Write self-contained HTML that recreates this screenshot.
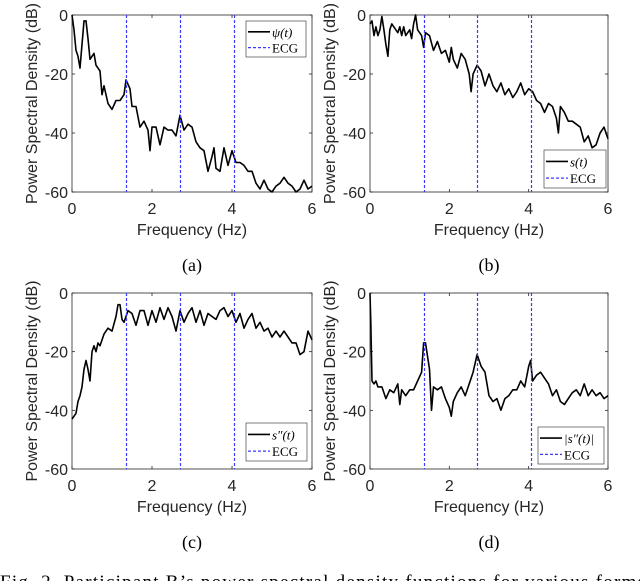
<!DOCTYPE html>
<html><head><meta charset="utf-8"><style>
body{margin:0;background:#fff;width:640px;height:581px;overflow:hidden}
svg{display:block}
</style></head><body>
<svg id="fig" width="640" height="581" viewBox="0 0 640 581" xmlns="http://www.w3.org/2000/svg" font-family="Liberation Sans, sans-serif">
<text x="0" y="588" font-family="Liberation Serif, serif" font-size="19" textLength="645">Fig. 2.  Participant B’s power spectral density functions for various forms</text>
</svg>
<script>
const freqA=[0,.05,.1,.15,.2,.25,.3,.35,.4,.45,.5,.55,.6,.7,.75,.8,.9,1.0,1.1,1.2,1.3,1.35,1.45,1.5,1.6,1.7,1.8,1.9,1.95,2.0,2.1,2.2,2.3,2.4,2.5,2.6,2.7,2.8,2.9,3.0,3.1,3.2,3.3,3.4,3.5,3.55,3.6,3.7,3.8,3.9,4.0,4.1,4.2,4.3,4.4,4.5,4.6,4.7,4.8,4.9,5.0,5.1,5.2,5.3,5.4,5.5,5.6,5.7,5.8,5.9,6.0];
const psdA=[0,-5,-12,-14,-18,-10,-2,-2,-8,-15,-14,-13,-17,-19,-27,-24,-30,-32,-29,-29,-27,-22,-25,-31,-31,-38,-36,-39,-46,-38,-38,-44,-38,-39,-39,-41,-34,-39,-37,-38,-43,-45,-46,-53,-48,-45,-52,-53,-45,-51,-46,-50,-50,-51,-53,-53,-57,-59,-56,-59,-60,-58,-57,-55,-57,-58,-60,-59,-56,-59,-58];
const freqB=[0,.05,.1,.15,.2,.25,.3,.35,.4,.45,.5,.55,.6,.7,.75,.8,.85,.9,1.0,1.05,1.1,1.15,1.2,1.3,1.35,1.4,1.5,1.6,1.7,1.8,1.9,2.0,2.05,2.1,2.2,2.3,2.4,2.5,2.55,2.6,2.7,2.8,2.9,3.0,3.1,3.2,3.3,3.4,3.5,3.6,3.7,3.8,3.9,4.0,4.1,4.2,4.3,4.4,4.5,4.6,4.7,4.75,4.8,4.9,5.0,5.1,5.2,5.3,5.4,5.5,5.6,5.7,5.8,5.9,6.0];
const psdB=[-3,-2,-7,-4,-7,-5,-0.5,-5,-10,-14,-5,-3,-4,-6,-4,-7,-4,-7,-5,-8,-3,0,-5,-7,-11,-6,-7,-12,-9,-13,-12,-16,-11,-15,-18,-13,-15,-20,-26,-20,-17,-19,-24,-20,-24,-26,-23,-27,-25,-28,-26,-23,-27,-25,-26,-29,-30,-33,-30,-31,-35,-40,-31,-33,-36,-36,-37,-38,-43,-41,-45,-44,-40,-38,-42];
const freqC=[0,.05,.1,.15,.2,.25,.3,.35,.4,.45,.5,.55,.6,.65,.7,.8,.9,1.0,1.1,1.15,1.2,1.25,1.3,1.4,1.5,1.6,1.7,1.8,1.9,2.0,2.1,2.2,2.3,2.4,2.5,2.6,2.7,2.8,2.9,3.0,3.1,3.2,3.3,3.4,3.5,3.6,3.7,3.8,3.9,4.0,4.1,4.2,4.3,4.4,4.5,4.6,4.7,4.8,4.9,5.0,5.1,5.2,5.3,5.4,5.5,5.6,5.7,5.8,5.9,6.0];
const psdC=[-43,-42,-41,-37,-35,-32,-26,-23,-26,-30,-20,-18,-20,-17,-18,-14,-12,-13,-8,-4,-4,-9,-10,-6,-7,-11,-6,-6,-11,-6,-10,-5,-9,-5,-8,-13,-6,-10,-7,-5,-10,-6,-11,-7,-8,-9,-6,-5,-8,-6,-10,-7,-12,-9,-7,-12,-10,-13,-12,-15,-13,-15,-13,-15,-17,-17,-21,-20,-13,-16];
const freqD=[0,.02,.05,.1,.15,.2,.3,.4,.5,.6,.7,.75,.8,.9,1.0,1.1,1.2,1.3,1.35,1.4,1.5,1.55,1.6,1.7,1.8,1.9,2.0,2.05,2.1,2.2,2.3,2.4,2.5,2.6,2.7,2.8,2.9,3.0,3.1,3.2,3.3,3.4,3.5,3.6,3.7,3.8,3.9,4.0,4.05,4.1,4.2,4.3,4.4,4.5,4.6,4.7,4.8,4.9,5.0,5.1,5.2,5.3,5.4,5.5,5.6,5.7,5.8,5.9,6.0];
const psdD=[0,-10,-30,-31,-30,-32,-32,-36,-33,-34,-31,-38,-33,-35,-33,-33,-30,-27,-17,-17,-26,-40,-32,-33,-32,-36,-39,-42,-37,-34,-32,-35,-31,-27,-21,-25,-27,-35,-37,-36,-40,-36,-35,-33,-33,-30,-32,-25,-23,-30,-28,-27,-29,-31,-35,-33,-37,-38,-36,-34,-33,-35,-31,-35,-33,-35,-34,-36,-35];
const ecgFreqs=[1.35,2.7,4.05];
const xTicks=[0,2,4,6];
const yTicks=[0,-20,-40,-60];
const NS='http://www.w3.org/2000/svg';
const svg=document.getElementById('fig');
function mk(tag,attrs,parent){const e=document.createElementNS(NS,tag);for(const k in attrs)e.setAttribute(k,attrs[k]);(parent||svg).appendChild(e);return e;}
const panels=[
 {id:'a',L:72,R:312,T:15,B:192,f:freqA,p:psdA,leg:{x:246,y:21,w:60,h:36},lab:'ψ(t)'},
 {id:'b',L:370,R:608,T:15,B:192,f:freqB,p:psdB,leg:{x:544,y:150,w:62,h:38},lab:'s(t)'},
 {id:'c',L:72,R:312,T:293,B:469,f:freqC,p:psdC,leg:{x:246,y:423,w:61,h:38},lab:'s″(t)'},
 {id:'d',L:370,R:608,T:293,B:469,f:freqD,p:psdD,leg:{x:538,y:427,w:66,h:37},lab:'|s″(t)|'}];
panels.forEach(P=>{
 const g=mk('g',{});
 
 
 const xs=v=>P.L+(v/6)*(P.R-P.L), ys=v=>P.T+(-v/60)*(P.B-P.T);
 const box=mk('rect',{x:P.L,y:P.T,width:P.R-P.L,height:P.B-P.T,fill:'#fff',stroke:'#262626','stroke-width':0.8},g);
 
 
 xTicks.forEach(t=>{const x=xs(t);
  mk('line',{x1:x,x2:x,y1:P.B,y2:P.B-3,stroke:'#262626','stroke-width':0.8},g);
  mk('line',{x1:x,x2:x,y1:P.T,y2:P.T+3,stroke:'#262626','stroke-width':0.8},g);
  const tx=mk('text',{x:x,y:P.B+22,'font-size':16,'text-anchor':'middle',fill:'#262626'},g);tx.textContent=t;
  
  });
 yTicks.forEach(t=>{const y=ys(t);
  mk('line',{x1:P.L,x2:P.L+3,y1:y,y2:y,stroke:'#262626','stroke-width':0.8},g);
  mk('line',{x1:P.R,x2:P.R-3,y1:y,y2:y,stroke:'#262626','stroke-width':0.8},g);
  const tx=mk('text',{x:P.L-4,y:y+6,'font-size':16,'text-anchor':'end',fill:'#262626'},g);tx.textContent=t;
  
  });
 const d=P.f.map((f,i)=>(i?'L':'M')+xs(f).toFixed(1)+','+ys(Math.max(-60,P.p[i])).toFixed(1)).join('');
 const path=mk('path',{d:d,fill:'none',stroke:'#000','stroke-width':1.6,'stroke-linejoin':'round'},g);
 
 
 ecgFreqs.forEach(f=>{const x=Math.round(xs(f))+0.5;const l=mk('line',{x1:x,x2:x,y1:P.T,y2:P.B,stroke:'#3a3aff','stroke-width':1.2,'stroke-dasharray':'3,2'},g);
  
  });
 const lg=mk('g',{},g);
 
 
 const Lg=P.leg;
 mk('rect',{x:Lg.x,y:Lg.y,width:Lg.w,height:Lg.h,fill:'#fff',stroke:'#262626','stroke-width':0.6},lg);
 mk('line',{x1:Lg.x+2,x2:Lg.x+24,y1:Lg.y+Lg.h*0.3,y2:Lg.y+Lg.h*0.3,stroke:'#000','stroke-width':1.6},lg);
 mk('line',{x1:Lg.x+2,x2:Lg.x+24,y1:Lg.y+Lg.h*0.74,y2:Lg.y+Lg.h*0.74,stroke:'#3a3aff','stroke-width':1.2,'stroke-dasharray':'3,2'},lg);
 const t1=mk('text',{x:Lg.x+26,y:Lg.y+Lg.h*0.3+5,'font-size':13,'font-family':'Liberation Serif, serif','font-style':'italic'},lg);t1.textContent=P.lab;
 const t2=mk('text',{x:Lg.x+26,y:Lg.y+Lg.h*0.74+5,'font-size':13,'font-family':'Liberation Serif, serif'},lg);t2.textContent='ECG';
 const xt=mk('text',{x:(P.L+P.R)/2,y:P.B+43,'font-size':16,'text-anchor':'middle',fill:'#262626'},g);xt.textContent='Frequency (Hz)';
 
 
 const cy=(P.T+P.B)/2, cx=P.L-35;
 const yt=mk('text',{x:cx,y:cy,'font-size':16,'text-anchor':'middle',fill:'#262626',transform:'rotate(-90 '+cx+' '+cy+')'},g);yt.textContent='Power Spectral Density (dB)';
 
 
 const sl=mk('text',{x:(P.L+P.R)/2,y:P.B+79,'font-size':18,'text-anchor':'middle','font-family':'Liberation Serif, serif'},g);sl.textContent='('+P.id+')';
 
 
});
</script>
</body></html>
